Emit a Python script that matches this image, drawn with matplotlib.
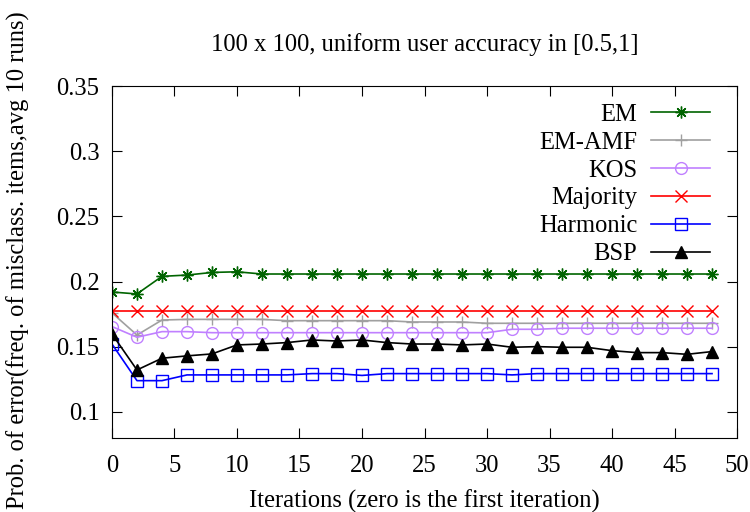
import matplotlib.pyplot as plt
import numpy as np

plt.rcParams['font.family'] = ['Liberation Serif', 'DejaVu Serif']

# iterations 0, 2, ..., 48
iters = np.arange(0, 50, 2)

em = [0.192, 0.1905, 0.204, 0.205, 0.207, 0.2075, 0.2058, 0.2058, 0.2058, 0.2058,
      0.2058, 0.2058, 0.2058, 0.2058, 0.2058, 0.2058, 0.2058, 0.2058, 0.2058, 0.2058,
      0.2058, 0.2058, 0.2058, 0.2058, 0.2058]
em_amf = [0.176, 0.159, 0.1705, 0.171, 0.171, 0.171, 0.171, 0.170, 0.170, 0.170,
          0.170, 0.170, 0.169, 0.169, 0.169, 0.168, 0.168, 0.168, 0.168, 0.168,
          0.168, 0.168, 0.168, 0.168, 0.168]
kos = [0.1655, 0.1573, 0.1616, 0.1616, 0.1608, 0.1608, 0.1608, 0.1608, 0.1608, 0.1608,
       0.1608, 0.1608, 0.1608, 0.1608, 0.1608, 0.1608, 0.1634, 0.1634, 0.1642, 0.1642,
       0.1642, 0.1642, 0.1642, 0.1642, 0.1642]
majority = [0.1777] * 25
harmonic = [0.1521, 0.124, 0.124, 0.1284, 0.1284, 0.1284, 0.1284, 0.1284, 0.1294, 0.1294,
            0.128, 0.1294, 0.1294, 0.1294, 0.1294, 0.1294, 0.1284, 0.1294, 0.1294, 0.1294,
            0.1294, 0.1294, 0.1294, 0.1294, 0.1294]
bsp = [0.1598, 0.1322, 0.1412, 0.143, 0.1445, 0.1514, 0.1521, 0.1532, 0.1552, 0.1544,
       0.1552, 0.1532, 0.1521, 0.1521, 0.1514, 0.1521, 0.1496, 0.1501, 0.1496, 0.1496,
       0.147, 0.1455, 0.1455, 0.1442, 0.1463]

fs = 17.7

fig = plt.figure(figsize=(7.5, 5.12), dpi=100)
ax = fig.add_axes([0.1493, 0.1445, 0.8334, 0.6875])

ms = 8.5
lw = 1.2
ax.plot(iters, em, color='#006400', marker=(8, 2, 0), ms=ms, lw=lw, label='EM')
ax.plot(iters, em_amf, color='#a0a0a0', marker='+', ms=ms, lw=lw, label='EM-AMF')
ax.plot(iters, kos, color='#c080ff', marker='o', mfc='none', ms=ms, lw=lw, label='KOS')
ax.plot(iters, majority, color='red', marker='x', ms=ms, lw=lw, label='Majority')
ax.plot(iters, harmonic, color='blue', marker='s', mfc='none', ms=ms, lw=lw, label='Harmonic')
ax.plot(iters, bsp, color='black', marker='^', ms=ms, lw=lw, label='BSP')

ax.set_xlim(0, 50)
ax.set_ylim(0.08, 0.35)
ax.set_xticks(np.arange(0, 51, 5))
ax.set_yticks([0.1, 0.15, 0.2, 0.25, 0.3, 0.35])
ax.set_yticklabels(['0.1', '0.15', '0.2', '0.25', '0.3', '0.35'])
ax.tick_params(direction='in', top=True, right=True, length=7, labelsize=fs)
ax.tick_params(axis='y', pad=9)
ax.tick_params(axis='x', pad=12)

ax.set_title('100 x 100, uniform user accuracy in [0.5,1]', fontsize=fs, pad=25)
ax.set_xlabel('Iterations (zero is the first iteration)', fontsize=fs, labelpad=9)
# y label placed by hand so it fits the full figure height
fig.text(18 / 750, 1 - 260 / 512, 'Prob. of error(freq. of misclass. items,avg 10 runs)',
         rotation=90, ha='center', va='center', fontsize=fs)

ax.legend(loc='upper right', bbox_to_anchor=(0.957, 0.95), frameon=False,
          markerfirst=False, fontsize=fs, borderpad=0, borderaxespad=0,
          handlelength=2.4, labelspacing=0.23, handletextpad=0.56)

fig.savefig('out.png', dpi=100)
